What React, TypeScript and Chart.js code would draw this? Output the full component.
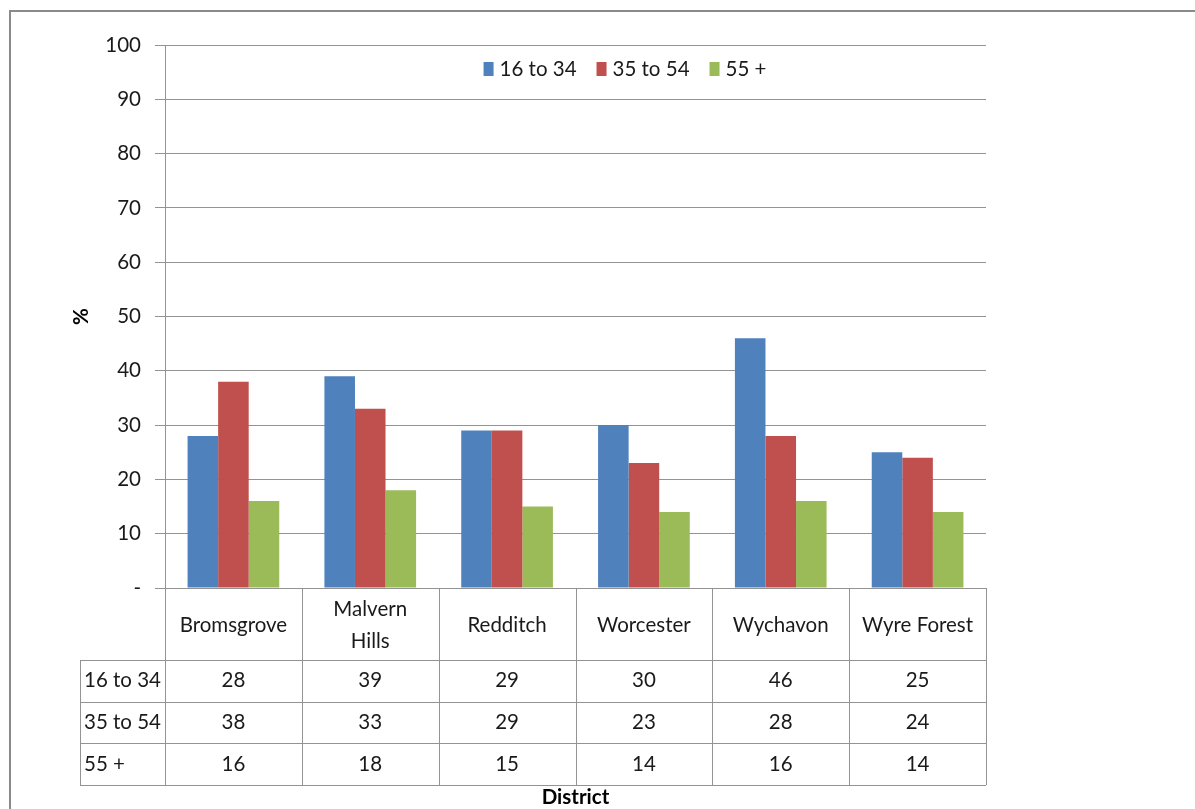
import React, { useEffect, useRef } from "react";
import { Chart, registerables } from "chart.js";

Chart.register(...registerables);

const categories: (string | string[])[] = [
  "Bromsgrove",
  ["Malvern", "Hills"],
  "Redditch",
  "Worcester",
  "Wychavon",
  "Wyre Forest",
];
const seriesNames = ["16 to 34", "35 to 54", "55 +"];
const age16to34 = [28, 39, 29, 30, 46, 25];
const age35to54 = [38, 33, 29, 23, 28, 24];
const age55plus = [16, 18, 15, 14, 16, 14];
const seriesColors = ["#4F81BD", "#C0504D", "#9BBB59"];
const yTicks = [0, 10, 20, 30, 40, 50, 60, 70, 80, 90, 100];

const FONT = "Lato, 'Liberation Sans', sans-serif";
const FS = 20.5;
const TEXT = "#1a1a1a";
const GRID = "#939393";

const extrasPlugin = {
  id: "extras",
  afterDraw(chart: any) {
    const { ctx, chartArea } = chart;
    const { left, right, top, bottom } = chartArea;
    const datasets = chart.data.datasets;
    const labels = chart.data.labels;
    const n = labels.length;
    const colW = (right - left) / n;
    const headerH = 72;
    const rowH = 41.7;
    const rowLabelLeft = 80;
    const tableBottom = bottom + headerH + rowH * datasets.length;

    ctx.save();
    // outer frame
    ctx.strokeStyle = "#8a8a8a";
    ctx.lineWidth = 2;
    ctx.strokeRect(10, 11, 2000, 2000);

    // table lines
    ctx.strokeStyle = GRID;
    ctx.lineWidth = 1;
    ctx.beginPath();
    for (let i = 0; i <= n; i++) {
      const x = Math.round(left + i * colW) + 0.5;
      ctx.moveTo(x, bottom);
      ctx.lineTo(x, tableBottom);
    }
    const xl = rowLabelLeft + 0.5;
    ctx.moveTo(xl, bottom + headerH);
    ctx.lineTo(xl, tableBottom);
    for (let r = 0; r <= datasets.length; r++) {
      const y = Math.round(bottom + headerH + r * rowH) + 0.5;
      ctx.moveTo(rowLabelLeft, y);
      ctx.lineTo(right, y);
    }
    ctx.stroke();

    // category headers
    ctx.fillStyle = TEXT;
    ctx.font = `${FS}px ${FONT}`;
    ctx.textAlign = "center";
    ctx.textBaseline = "middle";
    for (let i = 0; i < n; i++) {
      const cx = left + (i + 0.5) * colW;
      const lines = Array.isArray(labels[i]) ? labels[i] : [labels[i]];
      const lh = 32;
      const cy = bottom + headerH / 2 + 1;
      lines.forEach((t: string, k: number) => {
        ctx.fillText(t, cx, cy + (k - (lines.length - 1) / 2) * lh);
      });
    }
    // rows
    datasets.forEach((ds: any, r: number) => {
      const cy = bottom + headerH + (r + 0.5) * rowH;
      ctx.textAlign = "left";
      ctx.fillText(ds.label, rowLabelLeft + 4, cy);
      ctx.textAlign = "center";
      ds.data.forEach((v: number, i: number) => {
        ctx.fillText(String(v), left + (i + 0.5) * colW, cy);
      });
    });

    // legend
    ctx.font = `${FS}px ${FONT}`;
    ctx.textBaseline = "middle";
    ctx.textAlign = "left";
    const boxW = 10;
    const boxH = 14;
    const gapBox = 6;
    const gapItem = 20;
    const widths = datasets.map((ds: any) => boxW + gapBox + ctx.measureText(ds.label).width);
    const total = widths.reduce((a: number, b: number) => a + b, 0) + gapItem * (datasets.length - 1);
    let lx = 625 - total / 2;
    const ly = 69;
    datasets.forEach((ds: any, i: number) => {
      ctx.fillStyle = ds.backgroundColor;
      ctx.fillRect(lx, ly - boxH / 2, boxW, boxH);
      ctx.fillStyle = TEXT;
      ctx.fillText(ds.label, lx + boxW + gapBox, ly);
      lx += widths[i] + gapItem;
    });

    // axis titles
    ctx.fillStyle = "#000";
    ctx.font = `bold ${FS}px ${FONT}`;
    ctx.textAlign = "center";
    ctx.fillText("District", (left + right) / 2, 797);
    ctx.save();
    ctx.translate(81, (top + bottom) / 2);
    ctx.rotate(-Math.PI / 2);
    ctx.fillText("%", 0, 0);
    ctx.restore();

    ctx.restore();
  },
};

export default function App() {
  const ref = useRef<HTMLCanvasElement>(null);
  useEffect(() => {
    document.body.style.margin = "0";
    const seriesValues = [age16to34, age35to54, age55plus];
    const chart = new Chart(ref.current!, {
      type: "bar",
      data: {
        labels: categories,
        datasets: seriesNames.map((name, i) => ({
          label: name,
          data: seriesValues[i],
          backgroundColor: seriesColors[i],
          borderWidth: 0,
          barPercentage: 1,
          categoryPercentage: 0.67,
        })),
      },
      options: {
        responsive: false,
        animation: false,
        layout: { padding: { top: 45, right: 209, bottom: 221, left: 0 } },
        plugins: { legend: { display: false }, tooltip: { enabled: false } },
        scales: {
          x: {
            ticks: { display: false },
            grid: { display: false },
            border: { display: true, color: GRID, width: 1 },
            afterFit(scale: any) {
              scale.height = 0;
            },
          },
          y: {
            min: 0,
            max: 100,
            afterBuildTicks(scale: any) {
              scale.ticks = yTicks.map((v) => ({ value: v }));
            },
            ticks: {
              font: { family: FONT, size: FS },
              color: TEXT,
              padding: 14,
              callback: (v: any) => (Number(v) === 0 ? "-" : String(v)),
            },
            grid: { color: GRID, lineWidth: 1, tickLength: 10 },
            border: { display: true, color: GRID, width: 1 },
            afterFit(scale: any) {
              scale.width = 165;
            },
          },
        },
      },
      plugins: [extrasPlugin],
    });
    return () => chart.destroy();
  }, []);
  return <canvas ref={ref} width={1195} height={809} style={{ display: "block" }} />;
}
